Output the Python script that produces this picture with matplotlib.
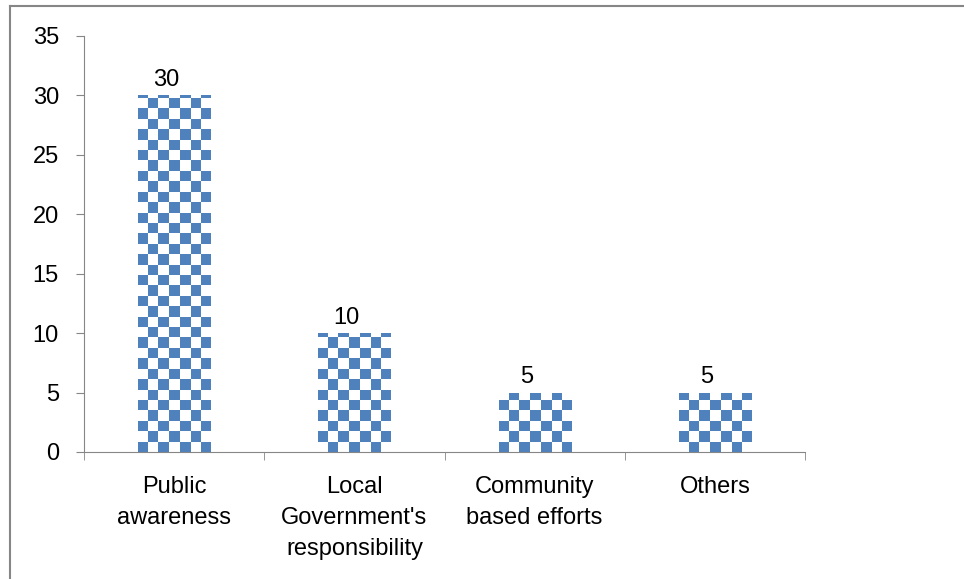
import numpy as np
import matplotlib.pyplot as plt
from matplotlib.lines import Line2D

plt.rcParams['font.family'] = ['Liberation Sans', 'DejaVu Sans']

categories = ["Public\nawareness", "Local\nGovernment's\nresponsibility",
              "Community\nbased efforts", "Others"]
values = [30, 10, 5, 5]
y_ticks = [0, 5, 10, 15, 20, 25, 30, 35]

blue = '#4F81BD'
gray = '#868686'

fig = plt.figure(figsize=(9.64, 5.79), dpi=100)
ax = fig.add_axes([84/964, 1 - 452/579, 721/964, 416/579])

x = np.arange(len(categories))
bars = ax.bar(x, values, width=0.4, facecolor='none', edgecolor='none')

ax.set_xlim(-0.5, len(categories) - 0.5)
ax.set_ylim(0, 35)

# checkerboard fill, clipped to each bar
nx, ny = 68, 40
board = (np.add.outer(np.arange(ny), np.arange(nx)) % 2).astype(float)
cmap = plt.matplotlib.colors.ListedColormap(['white', blue])
for b in bars:
    im = ax.imshow(board, cmap=cmap, extent=(-0.5, len(categories) - 0.5, 0, 35),
                   origin='lower', interpolation='nearest', aspect='auto', zorder=2)
    im.set_clip_path(b)

for xi, v in zip(x, values):
    ax.annotate(str(v), (xi, v), xytext=(-6, 3), textcoords='offset points',
                ha='center', va='bottom', fontsize=17)

ax.set_yticks(y_ticks)
ax.set_xticks(x)
ax.set_xticklabels(categories, fontsize=17, linespacing=1.55)
ax.set_xticks(np.arange(-0.5, len(categories)), minor=True)
ax.tick_params(axis='x', which='major', length=0, pad=17)
ax.tick_params(axis='x', which='minor', length=6, color=gray, direction='out')
ax.tick_params(axis='y', length=6, color=gray, labelsize=17, pad=12)

for s in ['top', 'right']:
    ax.spines[s].set_visible(False)
for s in ['left', 'bottom']:
    ax.spines[s].set_color(gray)

# outer chart border
fig.add_artist(Line2D([9.5/964, 9.5/964], [0, 1 - 5.5/579], color=gray, lw=1.5))
fig.add_artist(Line2D([9.5/964, 1], [1 - 5.5/579, 1 - 5.5/579], color=gray, lw=1.5))

fig.savefig('out.png', dpi=100)
